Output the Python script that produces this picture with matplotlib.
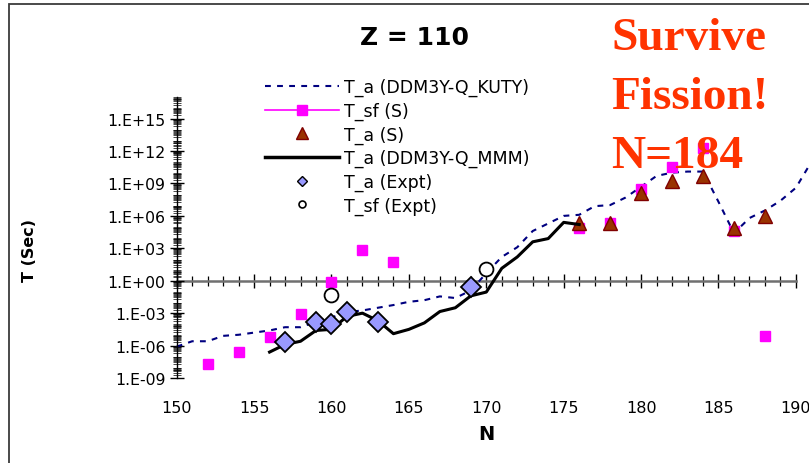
import matplotlib
matplotlib.use("Agg")
import matplotlib.pyplot as plt
import numpy as np
from matplotlib.lines import Line2D
from matplotlib.patches import Rectangle
from matplotlib.ticker import LogLocator, MultipleLocator, NullFormatter

plt.rcParams['font.family'] = ['DejaVu Sans']

# alpha half-lives, DDM3Y with Q from KUTY (log10 of T in seconds)
n_kuty = np.arange(150, 192)
log_t_kuty = [-6.1, -5.6, -5.6, -5.1, -5.0, -4.8, -4.6, -4.3, -4.3, -3.8,
              -3.4, -2.9, -2.75, -2.5, -2.25, -1.95, -1.8, -1.45, -1.6, -0.9,
              0.7, 2.2, 3.1, 4.6, 5.3, 6.0, 6.1, 6.9, 7.0, 7.7,
              8.7, 9.7, 10.0, 10.1, 10.1, 7.3, 4.4, 5.8, 6.5, 7.4,
              8.6, 11.0]

# spontaneous fission half-lives (S)
n_sf = [152, 154, 156, 158, 160, 162, 164, 176, 178, 180, 182, 184, 186, 188]
log_t_sf = [-7.7, -6.6, -5.2, -3.1, -0.15, 2.85, 1.7, 4.85, 5.3, 8.45,
            10.5, 12.25, 4.6, -5.1]

# alpha half-lives (S)
n_as = [176, 178, 180, 182, 184, 186, 188]
log_t_as = [5.3, 5.3, 8.1, 9.2, 9.7, 4.9, 6.0]

# alpha half-lives, DDM3Y with Q from MMM
n_mmm = np.arange(156, 177)
log_t_mmm = [-6.6, -5.9, -5.6, -4.6, -4.5, -3.3, -3.0, -3.7, -4.9, -4.5,
             -3.9, -2.85, -2.5, -1.4, -1.05, 1.15, 2.2, 3.6, 3.9, 5.4, 5.2]

# measured alpha and fission half-lives
n_expt_a = [157, 159, 160, 161, 163, 169]
log_t_expt_a = [-5.7, -3.85, -4.0, -2.85, -3.8, -0.6]
n_expt_sf = [160, 170]
log_t_expt_sf = [-1.3, 1.1]

y_ticks = [1e-9, 1e-6, 1e-3, 1e0, 1e3, 1e6, 1e9, 1e12, 1e15]
y_labels = ["1.E-09", "1.E-06", "1.E-03", "1.E+00", "1.E+03", "1.E+06",
            "1.E+09", "1.E+12", "1.E+15"]
x_ticks = [150, 155, 160, 165, 170, 175, 180, 185, 190]

W, H = 809, 464
fig = plt.figure(figsize=(W / 100, H / 100), dpi=100)
fig.patch.set_facecolor('white')

# chart border (runs off the right and bottom edges)
fig.patches.append(Rectangle((9 / W, -0.05), 1.1, 1 - 5 / H + 0.05,
                             transform=fig.transFigure, fill=False,
                             ec='#3a3a3a', lw=1.3))

ax = fig.add_axes([176.7 / W, (H - 379) / H, 41 * 15.48 / W, 281 / H])
ax.set_facecolor('none')
ax.set_yscale('log')
ax.set_xlim(150, 191)
ax.set_ylim(1e-9, 1e17)

kuty_dash = (2.8, 3.0)
ax.plot(n_kuty, 10.0 ** np.array(log_t_kuty), color='#000080', lw=1.5,
        dashes=kuty_dash, clip_on=False)
ax.plot(n_sf, 10.0 ** np.array(log_t_sf), ls='none', marker='s', ms=7,
        mfc='#FF00FF', mec='#FF00FF')
ax.plot(n_as, 10.0 ** np.array(log_t_as), ls='none', marker='^', ms=10,
        mfc='#993300', mec='#800000', mew=1.0)
ax.plot(n_mmm, 10.0 ** np.array(log_t_mmm), color='black', lw=2.2)
ax.plot(n_expt_a, 10.0 ** np.array(log_t_expt_a), ls='none', marker='D',
        ms=10, mfc='#9999FF', mec='black', mew=1.3)
ax.plot(n_expt_sf, 10.0 ** np.array(log_t_expt_sf), ls='none', marker='o',
        ms=10, mfc='white', mec='black', mew=1.3)

for s in ['top', 'right', 'bottom']:
    ax.spines[s].set_visible(False)
ax.spines['left'].set_linewidth(1.0)

ax.set_yticks(y_ticks, y_labels)
ax.yaxis.set_minor_locator(LogLocator(base=10, subs=np.arange(2, 10), numticks=100))
ax.yaxis.set_minor_formatter(NullFormatter())
ax.tick_params(axis='y', which='major', direction='inout', length=10,
               width=1.0, labelsize=11.3, pad=3)
ax.tick_params(axis='y', which='minor', direction='inout', length=6, width=0.5)

# tick labels along the bottom, axis line drawn through T = 1 s
ax.set_xticks(x_ticks, [str(v) for v in x_ticks])
ax.tick_params(axis='x', which='both', length=0, labelsize=11.5, pad=16)
secax = ax.secondary_xaxis(9 / 26)
secax.spines['bottom'].set_color('#707070')
secax.spines['bottom'].set_linewidth(1.8)
secax.spines['bottom'].set_bounds(150, 190)
secax.xaxis.set_major_locator(MultipleLocator(5))
secax.xaxis.set_minor_locator(MultipleLocator(1))
secax.tick_params(which='major', direction='inout', length=10, width=1.0,
                  labelbottom=False, labeltop=False)
secax.tick_params(which='minor', direction='inout', length=7, width=0.9)

fig.text(415 / W, 1 - 38 / H, "Z = 110", ha='center', va='center',
         fontsize=18, fontweight='bold')
fig.text(30 / W, 1 - 251 / H, "T (Sec)", ha='center', va='center',
         rotation=90, fontsize=11.5, fontweight='bold')
fig.text(486 / W, 1 - 435 / H, "N", ha='center', va='center',
         fontsize=14, fontweight='bold')

note = dict(family='Liberation Serif', fontweight='bold', fontsize=34,
            color='#FF3300', ha='left', va='center')
fig.text(611 / W, 1 - 39 / H, "Survive", **note)
fig.text(611 / W, 1 - 98 / H, "Fission!", **note)
fig.text(611 / W, 1 - 157 / H, "N=184", **note)

handles = [
    Line2D([], [], color='#000080', lw=1.5, dashes=kuty_dash),
    Line2D([], [], color='#FF00FF', lw=1.2, marker='s', ms=7,
           mfc='#FF00FF', mec='#FF00FF'),
    Line2D([], [], ls='none', marker='^', ms=8, mfc='#993300', mec='#800000'),
    Line2D([], [], color='black', lw=2.5),
    Line2D([], [], ls='none', marker='D', ms=5, mfc='#9999FF', mec='black'),
    Line2D([], [], ls='none', marker='o', ms=5, mfc='white', mec='black',
           mew=1.2),
]
labels = ["T_a (DDM3Y-Q_KUTY)", "T_sf (S)", "T_a (S)",
          "T_a (DDM3Y-Q_MMM)", "T_a (Expt)", "T_sf (Expt)"]
fig.legend(handles, labels, loc='upper left',
           bbox_to_anchor=(265 / W, 1 - 79 / H), frameon=False,
           fontsize=12.5, handlelength=4.25, handletextpad=0.3,
           labelspacing=0.31, borderaxespad=0, borderpad=0)

fig.savefig("out.png", dpi=100)
